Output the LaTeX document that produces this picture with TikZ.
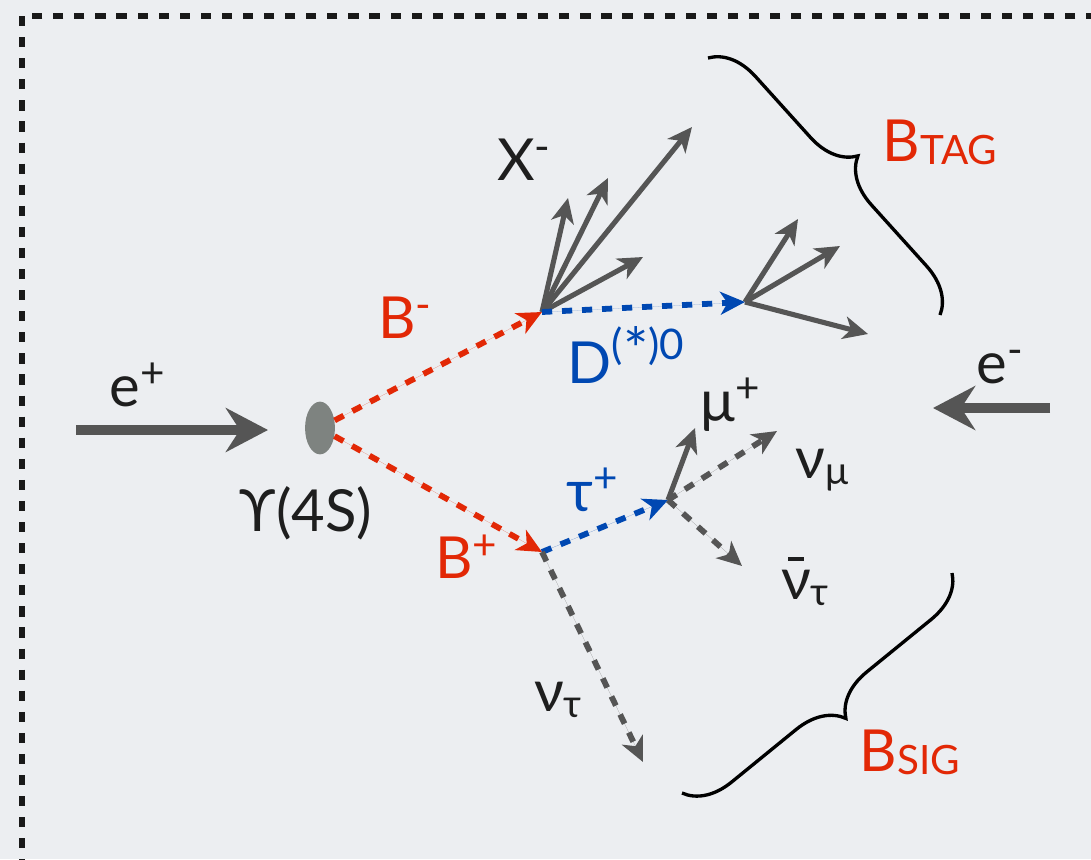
\documentclass[tikz,border=0pt]{standalone}
\usepackage{fontspec}
\setmainfont{Lato}
\usetikzlibrary{arrows.meta, positioning, shapes.geometric, decorations.pathreplacing}
\definecolor{bggray}{RGB}{236,238,241}
\definecolor{trkgray}{RGB}{85,85,85}
\definecolor{blobgray}{RGB}{126,131,128}
\definecolor{bred}{RGB}{226,40,6}
\definecolor{bblue}{RGB}{0,72,178}
\definecolor{txtblack}{RGB}{30,30,30}
\newcommand\upidx[2][0.33em]{\raisebox{#1}{\fontsize{24}{26}\selectfont #2}}
\newcommand\lowidx[1]{\raisebox{-0.1em}{\fontsize{22}{24}\selectfont #1}}
\newcommand\capidx[1]{\raisebox{-0.05em}{\fontsize{23}{26}\selectfont #1}}
\newcommand\barred[1]{\ooalign{#1\cr\hidewidth\rule[0.66em]{0.26em}{0.08em}\hidewidth\cr}}
\newcommand\bigast{\raisebox{-0.28em}{\fontsize{34}{34}\selectfont *}}
\tikzset{
  lbl/.style={font=\fontsize{33}{38}\selectfont,inner sep=0pt,text=txtblack},
  frame/.style={draw=black!90,line width=3.3pt,dash pattern=on 5.8pt off 6.2pt},
  blob/.style={ellipse,fill=blobgray,minimum width=17pt,minimum height=30pt,inner sep=0pt},
  beam/.style={draw=trkgray,line width=5.8pt,-{Stealth[length=24pt,width=25pt,inset=8pt]}},
  track/.style={draw=trkgray,line width=2.9pt,-{Stealth[length=14pt,width=13pt,inset=4pt]}},
  dtrack/.style={line width=3.3pt,dash pattern=on 5.8pt off 5.6pt,-{Stealth[length=14pt,width=13pt,inset=4pt]}},
  brc/.style={draw=black,line width=1.9pt,decorate,decoration={brace,amplitude=26pt}}
}

\begin{document}
\begin{tikzpicture}[x=0.02cm,y=-0.02cm]
\useasboundingbox (0,0) rectangle (1091,859);
\fill[bggray] (0,0) rectangle (1091,859);
\draw[frame] (22,16) rectangle (1130,900);

% vertices
\node[blob] (ups) at (320,428) {};
\coordinate (Bm) at (542,312);
\coordinate (Bp) at (542,552);
\coordinate (Dv) at (745,302);
\coordinate (Tv) at (668,500);

% end points
\coordinate (ep0) at (76,430);
\coordinate (ep1) at (268,430);
\coordinate (em0) at (1050,408);
\coordinate (em1) at (933,408);
\foreach \n/\p in {x1/{568,198},x2/{608,178},x3/{692,127},x4/{643,257},
                   d1/{798,219},d2/{840,246},d3/{868,334},
                   mu/{695,428},numu/{777,431},nutb/{742,566},nut/{643,762}}
  \coordinate (\n) at (\p);

% beams
\draw[beam] (ep0) -- (ep1);
\draw[beam] (em0) -- (em1);

% B pair
\draw[dtrack,draw=bred,fill=bred] (ups) -- (Bm);
\draw[dtrack,draw=bred,fill=bred] (ups) -- (Bp);

% tag side
\foreach \n in {x1,x2,x3,x4} \draw[track] (Bm) -- (\n);
\draw[dtrack,draw=bblue,fill=bblue] (Bm) -- (Dv);
\foreach \n in {d1,d2,d3} \draw[track] (Dv) -- (\n);

% signal side
\draw[dtrack,draw=bblue,fill=bblue] (Bp) -- (Tv);
\draw[track] (Tv) -- (mu);
\draw[dtrack,draw=trkgray,fill=trkgray] (Tv) -- (numu);
\draw[dtrack,draw=trkgray,fill=trkgray] (Tv) -- (nutb);
\draw[dtrack,draw=trkgray,fill=trkgray] (Bp) -- (nut);

% braces
\coordinate (tag0) at (708,58);
\coordinate (tag1) at (940,315);
\coordinate (sig0) at (952,573);
\coordinate (sig1) at (682,793);
\draw[brc] (tag0) -- (tag1);
\draw[brc] (sig0) -- (sig1);

% labels
\node[lbl] (eplab) at (137,385) {e\upidx{+}};
\node[lbl] (emlab) at (1000,367) {e\upidx{-}};
\node[lbl] (ylab) at (306,513) {ϒ(4S)};
\node[lbl,text=bred] (bmlab) at (405,318) {B\upidx{-}};
\node[lbl,text=bred] (bplab) at (466,557) {B\upidx{+}};
\node[lbl] (xlab) at (524,160) {X\upidx{-}};
\node[lbl,text=bblue] (dlab) at (626,355) {D\upidx[0.42em]{(\bigast)0}};
\node[lbl,text=bblue] (taulab) at (592,490) {τ\upidx{+}};
\node[lbl] (mulab) at (730,405) {μ\upidx{+}};
\node[lbl] (numulab) at (822,470) {ν\lowidx{μ}};
\node[lbl] (nutblab) at (805,588) {\barred{ν}\lowidx{τ}};
\node[lbl] (nutlab) at (558,700) {ν\lowidx{τ}};
\node[lbl,text=bred] (taglab) at (940,142) {B\capidx{TAG}};
\node[lbl,text=bred] (siglab) at (910,752) {B\capidx{SIG}};
\end{tikzpicture}
\end{document}
